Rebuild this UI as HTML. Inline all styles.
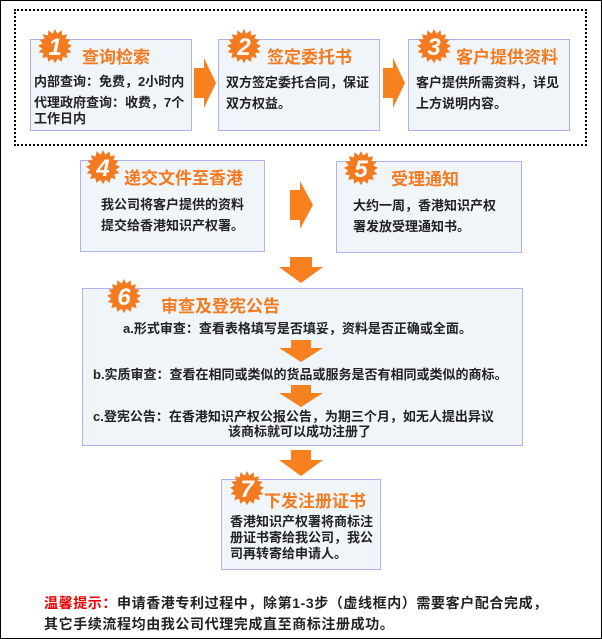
<!DOCTYPE html>
<html><head><meta charset="utf-8"><style>
*{margin:0;padding:0;box-sizing:border-box}
body{width:602px;height:639px;background:#fff;position:relative;overflow:hidden;font-family:"Liberation Sans","Noto Sans CJK SC",sans-serif}
.frame{position:absolute;left:0;top:0;width:602px;height:639px;border:1px solid #000}
.dot{position:absolute;left:14px;top:9px;width:573px;height:137px;border:2px dotted #000}
.box{position:absolute;background:#f0f5fa;border:1px solid #b4b0f0}
.t{position:absolute;color:#f47a20;font-size:17px;font-weight:bold;white-space:nowrap}
.b{position:absolute;font-size:13px;font-weight:bold;color:#222;line-height:21px;white-space:nowrap}
svg{position:absolute;left:0;top:0}
.tip{position:absolute;left:44px;top:593px;font-size:14px;letter-spacing:0.6px;font-weight:bold;color:#222;line-height:21px;white-space:nowrap}
</style></head><body>
<div class="frame"></div>
<div class="dot"></div>

<div class="box" style="left:30px;top:39px;width:162px;height:92px"></div>
<div class="box" style="left:218px;top:39px;width:162px;height:92px"></div>
<div class="box" style="left:408px;top:39px;width:162px;height:92px"></div>
<div class="box" style="left:80px;top:160px;width:185px;height:92px"></div>
<div class="box" style="left:336px;top:161px;width:186px;height:92px"></div>
<div class="box" style="left:82px;top:288px;width:441px;height:158px"></div>
<div class="box" style="left:221px;top:479px;width:160px;height:91px"></div>

<svg width="602" height="639">
<defs>
<polygon id="star" points="18,0 20.3,4.6 24.6,1.3 25.1,6.4 30.2,5.2 28.5,10 33.6,10.6 30.3,14.5 35,16.7 30.8,19.6 34.4,23.3 29.4,24.1 30.7,29.1 25.8,27.7 24.6,32.8 20.5,29.7 18,34.2 15.5,29.7 11.4,32.8 10.2,27.7 5.3,29.1 6.6,24.1 1.6,23.3 5.2,19.6 1,16.7 5.7,14.5 2.4,10.6 7.5,10 5.8,5.2 10.9,6.4 11.4,1.3 15.7,4.6" fill="#f47a20"/>
</defs>
<g fill="#f7801f">
<polygon points="194,68 204,68 204,58 216,83 204,108 204,98 194,98"/>
<polygon points="383,68 393,68 393,58 405,83 393,108 393,98 383,98"/>
<polygon points="290,190 300,190 300,181 313,205 300,229 300,220 290,220"/>
<polygon points="290,257 312,257 312,267 323,267 301,283 279,267 290,267"/>
<polygon points="291,340 311,340 311,348 323,348 301,362 279,348 291,348"/>
<polygon points="291,385 311,385 311,393 323,393 301,407 279,393 291,393"/>
<polygon points="291,450 311,450 311,460 323,460 301,476 279,460 291,460"/>
</g>
<g font-family="Liberation Sans,sans-serif" font-weight="bold" font-style="italic" font-size="24" fill="#fff" text-anchor="middle">
<use href="#star" x="37" y="29"/><text x="55" y="55">1</text>
<use href="#star" x="226" y="29"/><text x="244" y="55">2</text>
<use href="#star" x="416" y="29"/><text x="434" y="55">3</text>
<use href="#star" x="85" y="150"/><text x="103" y="176">4</text>
<use href="#star" x="343" y="151"/><text x="361" y="177">5</text>
<use href="#star" x="106" y="279"/><text x="124" y="305">6</text>
<use href="#star" x="229" y="471"/><text x="247" y="497">7</text>
</g>
</svg>

<div class="t" style="left:82px;top:43px">查询检索</div>
<div class="t" style="left:267px;top:43px">签定委托书</div>
<div class="t" style="left:456px;top:43px">客户提供资料</div>
<div class="t" style="left:124px;top:164px">递交文件至香港</div>
<div class="t" style="left:391px;top:165px">受理通知</div>
<div class="t" style="left:161px;top:292px">审查及登宪公告</div>
<div class="t" style="left:264px;top:487px">下发注册证书</div>

<div class="b" style="left:34px;top:71px">内部查询：免费，2小时内<br>代理政府查询：收费，7个</div>
<div class="b" style="left:34px;top:111px;line-height:15px">工作日内</div>
<div class="b" style="left:226px;top:72px">双方签定委托合同，保证<br>双方权益。</div>
<div class="b" style="left:416px;top:72px">客户提供所需资料，详见<br>上方说明内容。</div>
<div class="b" style="left:101px;top:194px">我公司将客户提供的资料<br>提交给香港知识产权署。</div>
<div class="b" style="left:353px;top:195px">大约一周，香港知识产权<br>署发放受理通知书。</div>
<div class="b" style="left:123px;top:318px">a.形式审查：查看表格填写是否填妥，资料是否正确或全面。</div>
<div class="b" style="left:93px;top:364px">b.实质审查：查看在相同或类似的货品或服务是否有相同或类似的商标。</div>
<div class="b" style="left:93px;top:409px;line-height:15px">c.登宪公告：在香港知识产权公报公告，为期三个月，如无人提出异议</div>
<div class="b" style="left:228px;top:424px;line-height:16px">该商标就可以成功注册了</div>
<div class="b" style="left:230px;top:514px;line-height:16px">香港知识产权署将商标注<br>册证书寄给我公司，我公<br>司再转寄给申请人。</div>

<div class="tip"><span style="color:#e00">温馨提示：</span>申请香港专利过程中，除第1-3步（虚线框内）需要客户配合完成，<br>其它手续流程均由我公司代理完成直至商标注册成功。</div>
</body></html>
